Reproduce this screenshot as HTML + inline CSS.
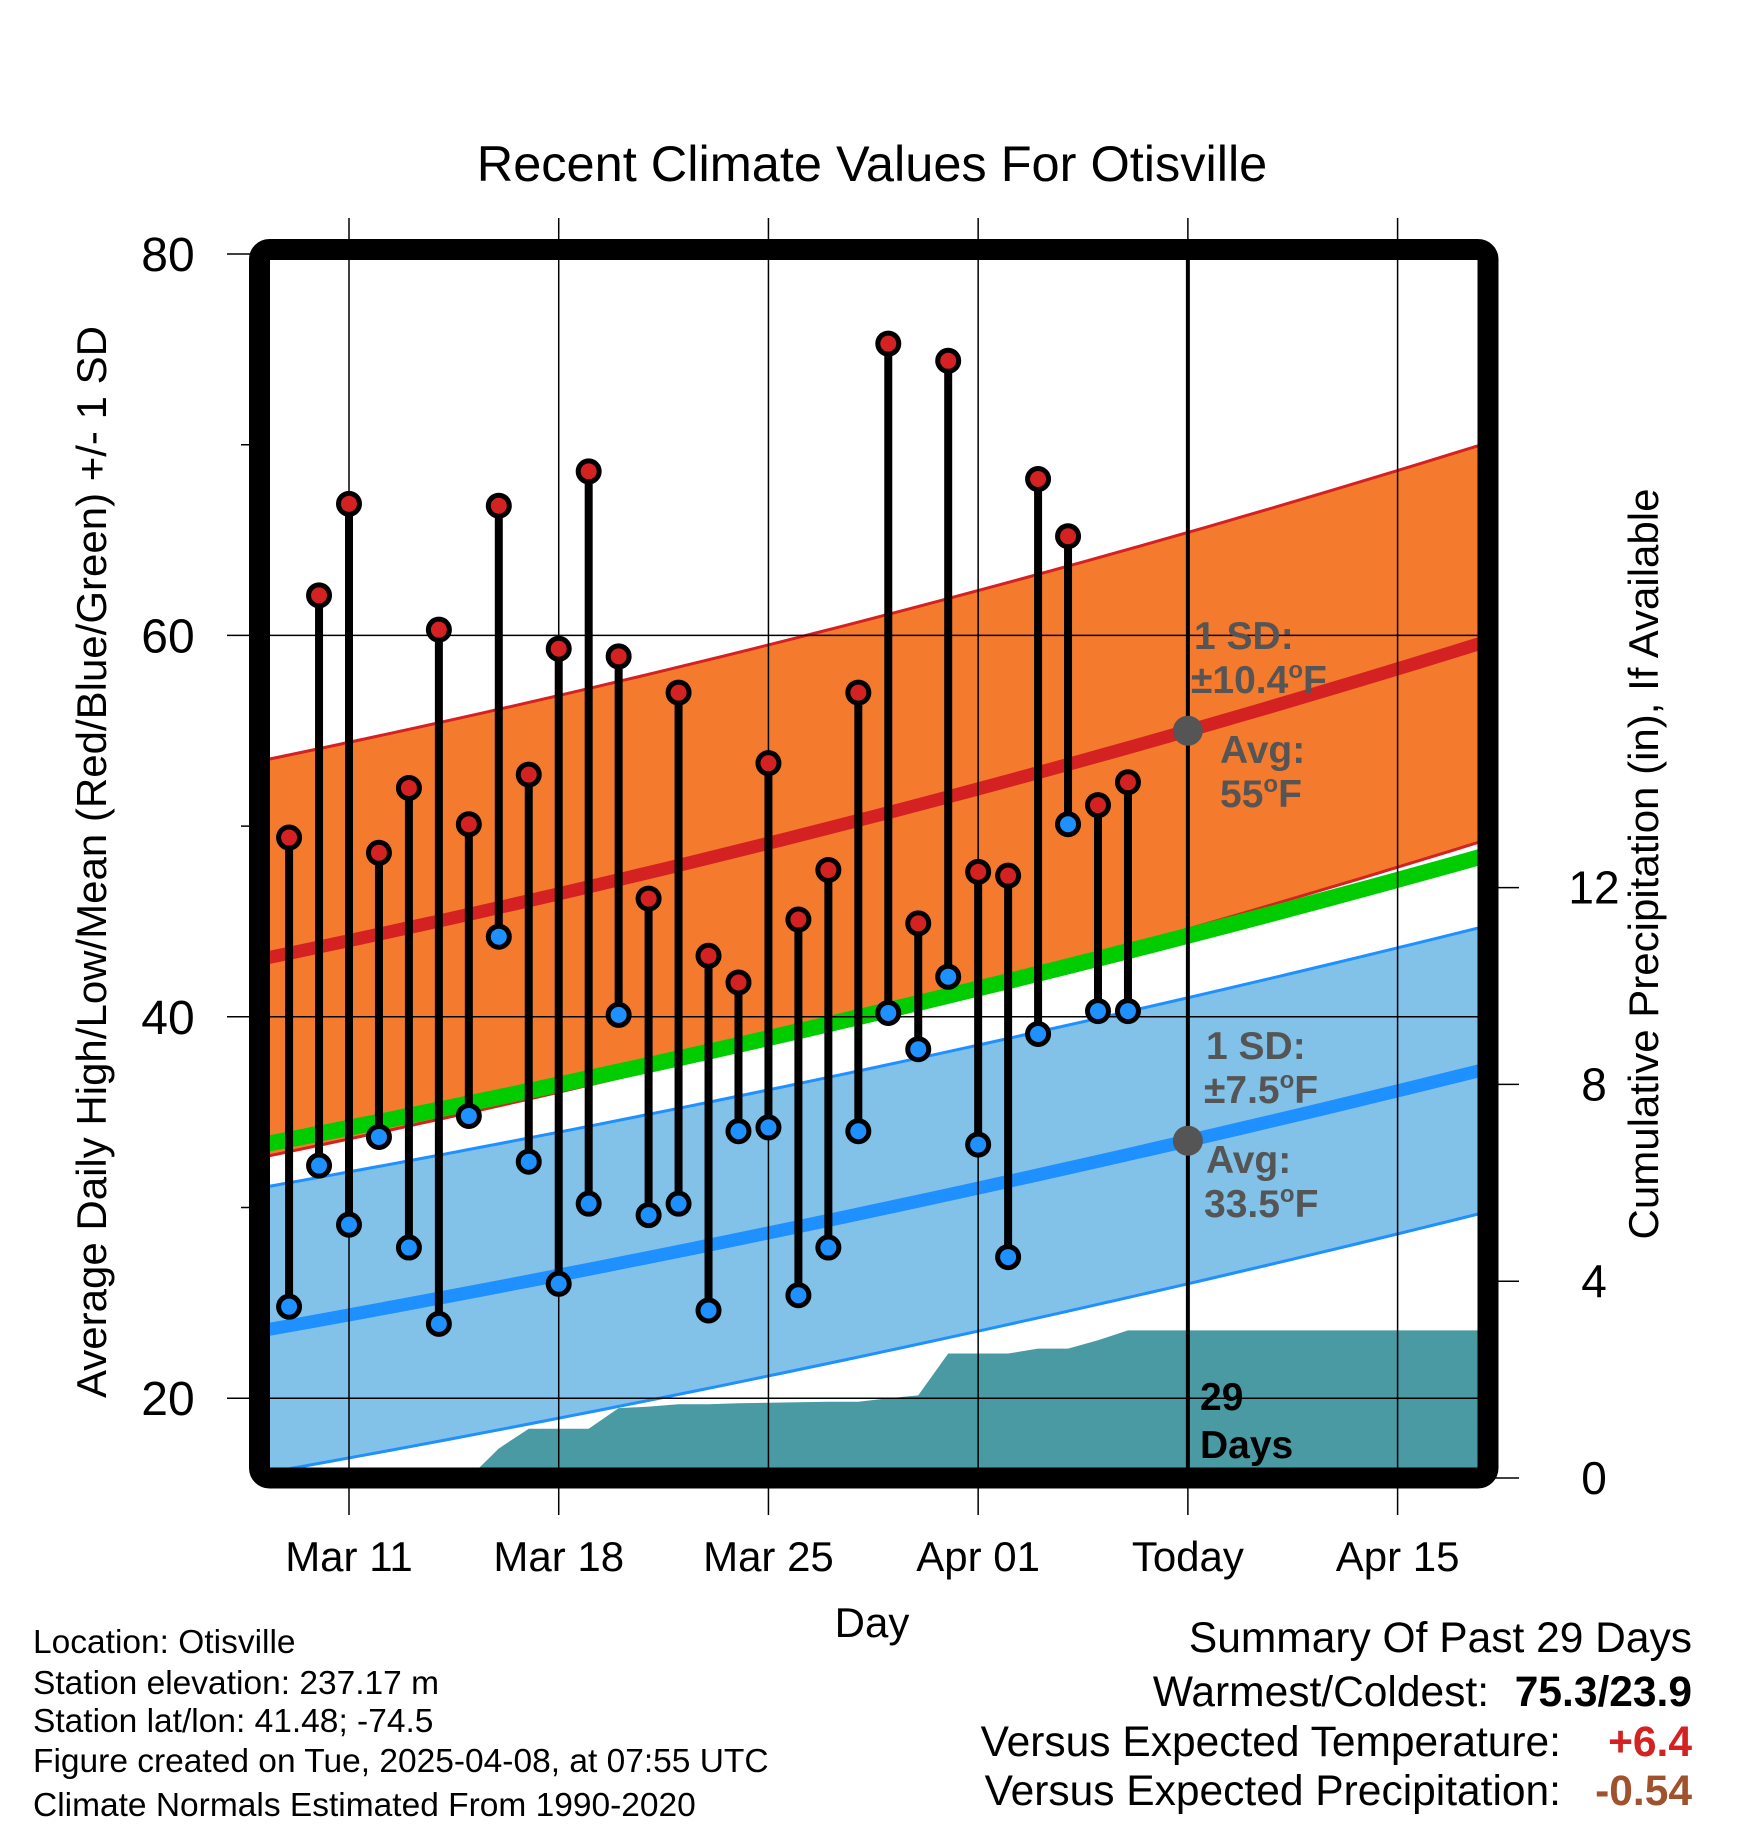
<!DOCTYPE html>
<html><head><meta charset="utf-8"><style>
html,body{margin:0;padding:0;background:#fff}
svg{display:block;font-family:"Liberation Sans",Arial,sans-serif}
</style></head><body>
<svg id="chart" width="1748" height="1828" viewBox="0 0 1748 1828" xmlns="http://www.w3.org/2000/svg">
<defs><clipPath id="plotclip"><rect x="270" y="260" width="1208" height="1208"/></clipPath></defs>
<g id="bands" clip-path="url(#plotclip)"></g>
<g id="grid"></g>
<g id="marks"></g>
<rect x="259.5" y="249.5" width="1228.5" height="1228.5" rx="10" fill="none" stroke="#000" stroke-width="21" stroke-linejoin="round"/>
<g id="axes"></g>
<text x="872" y="181" font-size="50.5" text-anchor="middle">Recent Climate Values For Otisville</text>
<text x="872" y="1637" font-size="42" text-anchor="middle">Day</text>
<text transform="translate(106,862) rotate(-90)" font-size="42" text-anchor="middle">Average Daily High/Low/Mean (Red/Blue/Green) +/- 1 SD</text>
<text transform="translate(1658,864) rotate(-90)" font-size="42" text-anchor="middle">Cumulative Precipitation (in), If Available</text>
<g font-size="39" font-weight="bold" fill="#555">
<text x="1194" y="649">1 SD:</text><text x="1191" y="693">±10.4<tspan font-size="24" dy="-15">o</tspan><tspan dy="15">F</tspan></text>
<text x="1220" y="763">Avg:</text><text x="1220" y="807">55<tspan font-size="24" dy="-15">o</tspan><tspan dy="15">F</tspan></text>
</g>
<g font-size="39" font-weight="bold" fill="#555">
<text x="1206" y="1059">1 SD:</text><text x="1204" y="1103">±7.5<tspan font-size="24" dy="-15">o</tspan><tspan dy="15">F</tspan></text>
<text x="1206" y="1173">Avg:</text><text x="1204" y="1217">33.5<tspan font-size="24" dy="-15">o</tspan><tspan dy="15">F</tspan></text>
</g>
<g font-size="39" font-weight="bold" fill="#000">
<text x="1200" y="1410">29</text><text x="1200" y="1458">Days</text>
</g>
<g font-size="33.5" fill="#000">
<text x="33" y="1653">Location: Otisville</text>
<text x="33" y="1694">Station elevation: 237.17 m</text>
<text x="33" y="1732">Station lat/lon: 41.48; -74.5</text>
<text x="33" y="1772">Figure created on Tue, 2025-04-08, at 07:55 UTC</text>
<text x="33" y="1816">Climate Normals Estimated From 1990-2020</text>
</g>
<g font-size="42.5">
<text x="1692" y="1652" text-anchor="end">Summary Of Past 29 Days</text>
<text x="1489" y="1706" text-anchor="end">Warmest/Coldest:</text>
<text x="1692" y="1706" text-anchor="end" font-weight="bold">75.3/23.9</text>
<text x="1561" y="1756" text-anchor="end">Versus Expected Temperature:</text>
<text x="1692" y="1756" text-anchor="end" font-weight="bold" fill="#d42121">+6.4</text>
<text x="1561" y="1805" text-anchor="end">Versus Expected Precipitation:</text>
<text x="1692" y="1805" text-anchor="end" font-weight="bold" fill="#a0522d">-0.54</text>
</g>
</svg>
<script>
// Data (day index 0 = Mar 9)
const highs = [49.4,62.1,66.9,48.6,52.0,60.3,50.1,66.8,52.7,59.3,68.6,58.9,46.2,57.0,43.2,41.8,53.3,45.1,47.7,57.0,75.3,44.9,74.4,47.6,47.4,68.2,65.2,51.1,52.3];
const lows  = [24.8,32.2,29.1,33.7,27.9,23.9,34.8,44.2,32.4,26.0,30.2,40.1,29.6,30.2,24.6,34.0,34.2,25.4,27.9,34.0,40.2,38.3,42.1,33.3,27.4,39.1,50.1,40.3,40.3];
const precip = [0,0,0,0,0,0,0,0.6,1.0,1.0,1.0,1.42,1.45,1.5,1.5,1.52,1.53,1.54,1.55,1.55,1.62,1.68,2.53,2.53,2.53,2.63,2.63,2.8,3.0];
const xTickLabels = ["Mar 11","Mar 18","Mar 25","Apr 01","Today","Apr 15"];
const xTickDays = [2,9,16,23,30,37];
const yTicks = [20,40,60,80];
const yMinorTicks = [30,50,70];
const y2Ticks = [0,4,8,12];
// normal mean at plot start, today, plot end
const highNorm = [43.1, 55, 59.6];
const lowNorm = [23.6, 33.5, 37.2];
const highSD = 10.4, lowSD = 7.5;
const todayDay = 30;

const NS = "http://www.w3.org/2000/svg";
const X = d => 349 + (d - 2) * 29.96;
const Y = t => 254 + (80 - t) * 19.07;
const Y2 = p => 1478 - p * 49.2;
const dL = -0.7, dR = 39.8;
function quad(v){ // Lagrange through (dL,v0),(today,v1),(dR,v2)
  const a=dL,b=todayDay,c=dR;
  return d => v[0]*(d-b)*(d-c)/((a-b)*(a-c)) + v[1]*(d-a)*(d-c)/((b-a)*(b-c)) + v[2]*(d-a)*(d-b)/((c-a)*(c-b));
}
const hiN = quad(highNorm), loN = quad(lowNorm);
const samples=[];for(let k=0;k<=40;k++)samples.push(dL+(dR-dL)*k/40);
function mk(tag, attrs, parent){const e=document.createElementNS(NS,tag);for(const k in attrs)e.setAttribute(k,attrs[k]);parent.appendChild(e);return e;}
const bands=document.getElementById('bands'), grid=document.getElementById('grid'), marks=document.getElementById('marks'), axes=document.getElementById('axes');
const ptsOf = f => samples.map(d=>X(d)+','+Y(f(d))).join(' ');

function band(f, sd, fill, edge, name){
  const top=samples.map(d=>X(d)+','+Y(f(d)+sd));
  const bot=samples.slice().reverse().map(d=>X(d)+','+Y(f(d)-sd));
  const p=mk('polygon',{points:top.concat(bot).join(' '),fill:fill},bands);
  
  
  [sd,-sd].forEach(s=>{const l=mk('polyline',{points:ptsOf(d=>f(d)+s),fill:'none',stroke:edge,'stroke-width':3},bands);
    
    });
}
function meanLine(f, color, w, name){
  const l=mk('polyline',{points:ptsOf(f),fill:'none',stroke:color,'stroke-width':w},bands);
  
  
}
band(loN, lowSD, '#82c1e8', '#1e90ff', 'low-sd-band');
band(hiN, highSD, '#f47a2e', '#d42121', 'high-sd-band');
meanLine(hiN, '#d42121', 13, 'high-mean-line');
meanLine(loN, '#1e90ff', 13, 'low-mean-line');
meanLine(d=>(hiN(d)+loN(d))/2, '#00cc00', 16, 'mean-line');

// precip area
let pp=[[X(dL),Y2(0)]];
precip.forEach((v,i)=>pp.push([X(i),Y2(v)]));
pp.push([X(dR+1),Y2(precip[precip.length-1])],[X(dR+1),Y2(-1)],[X(dL),Y2(-1)]);
const pa=mk('polygon',{points:pp.map(q=>q.join(',')).join(' '),fill:'#4a9aa4'},bands);



// grid
yTicks.forEach(t=>{if(t===80)return;const l=mk('line',{x1:270,x2:1478,y1:Y(t),y2:Y(t),stroke:'#000','stroke-width':1.5},grid);
  
  });
xTickDays.forEach((d,i)=>{const l=mk('line',{x1:X(d),x2:X(d),y1:218,y2:1515,stroke:'#000','stroke-width':1.5},grid);
  
  });
const tl=mk('line',{x1:X(todayDay),x2:X(todayDay),y1:255,y2:1475,stroke:'#000','stroke-width':4},grid);



// stems and dots
highs.forEach((h,i)=>{
  const s=mk('line',{x1:X(i),x2:X(i),y1:Y(h),y2:Y(lows[i]),stroke:'#000','stroke-width':8},marks);
  
  
});
highs.forEach((h,i)=>{
  const c=mk('circle',{cx:X(i),cy:Y(h),r:10.5,fill:'#d42121',stroke:'#000','stroke-width':5},marks);
  
  
  const c2=mk('circle',{cx:X(i),cy:Y(lows[i]),r:10.5,fill:'#1e90ff',stroke:'#000','stroke-width':5},marks);
  
  
});
[[hiN(todayDay)],[loN(todayDay)]].forEach((v,i)=>{
  const c=mk('circle',{cx:X(todayDay),cy:Y(v[0]),r:15,fill:'#555'},marks);
  
  
});

// axes ticks & labels
yTicks.forEach(t=>{
  const l=mk('line',{x1:227,x2:259,y1:Y(t),y2:Y(t),stroke:'#000','stroke-width':1.5},axes);
  
  
  const tx=mk('text',{x:168,y:Y(t)+17,'font-size':48,'text-anchor':'middle'},axes);
  tx.textContent=t;
  
  
});
yMinorTicks.forEach(t=>{
  const l=mk('line',{x1:241,x2:259,y1:Y(t),y2:Y(t),stroke:'#000','stroke-width':1.5},axes);
  
  
});
y2Ticks.forEach(p=>{
  const l=mk('line',{x1:1488,x2:1519,y1:Y2(p),y2:Y2(p),stroke:'#000','stroke-width':1.5},axes);
  
  
  const tx=mk('text',{x:1594,y:Y2(p)+16,'font-size':46,'text-anchor':'middle'},axes);
  tx.textContent=p;
  
  
});
xTickLabels.forEach((s,i)=>{
  const tx=mk('text',{x:X(xTickDays[i]),y:1571,'font-size':42,'text-anchor':'middle'},axes);
  tx.textContent=s;
  
  
});
</script>
</body></html>
